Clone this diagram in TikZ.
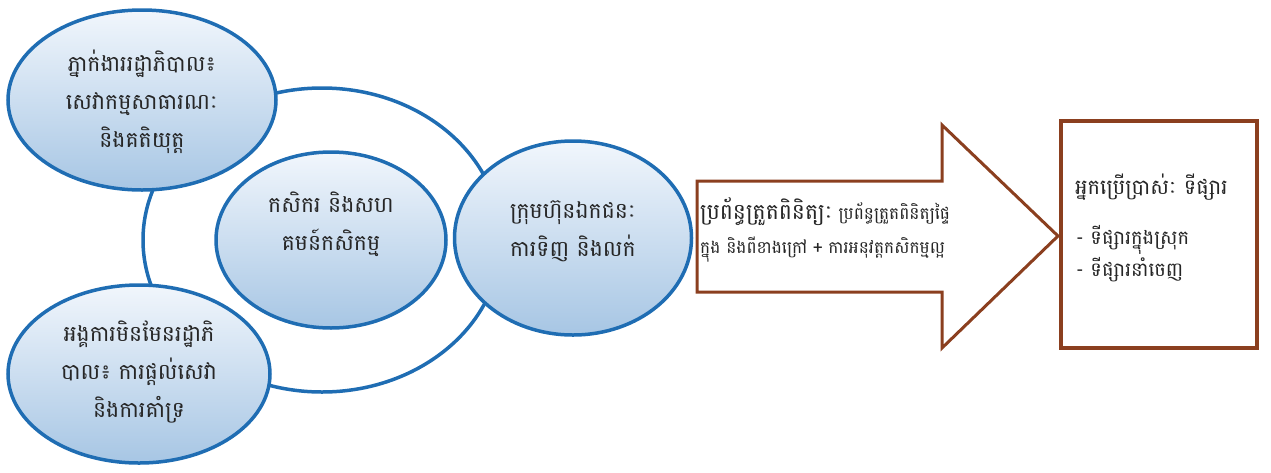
\documentclass[tikz,border=0pt]{standalone}
\usepackage{fontspec}
\setmainfont[Script=Khmer]{Battambang}
\usetikzlibrary{shapes.geometric}

\definecolor{bubbleline}{HTML}{1F6DB3}
\definecolor{bubbletop}{HTML}{F1F6FC}
\definecolor{bubblebot}{HTML}{A7C6E4}
\definecolor{brownline}{HTML}{8B3F1F}
\definecolor{inktext}{HTML}{262626}

\tikzset{
	bubble/.style = {ellipse, draw = bubbleline, line width = 3.5pt,
		top color = bubbletop, bottom color = bubblebot, inner sep = 0pt},
	bubbletext/.style = {align = center, inner sep = 0pt, text = inktext,
		font = \fontsize{22}{38}\selectfont},
	ring/.style = {ellipse, draw = bubbleline, line width = 3.5pt, inner sep = 0pt},
	brownbox/.style = {draw = brownline, fill = white, line width = 3.5pt, inner sep = 0pt}
}

\begin{document}
\begin{tikzpicture}[x = 1pt, y = -1pt]

	\useasboundingbox (0, 0) rectangle (1271, 472);

	% The big ring behind the bubbles

	\node [ring, minimum width = 358pt, minimum height = 304pt] (ring) at (322, 240) {};

	% Four bubbles

	\node [bubble, minimum width = 268pt, minimum height = 180pt] (gov) at (142, 100) {};
	\node [bubbletext] (govtext) at (142, 102) {ភ្នាក់ងាររដ្ឋាភិបាល៖\\សេវាកម្មសាធារណៈ\\និងគតិយុត្ត};

	\node [bubble, minimum width = 262pt, minimum height = 178pt] (ngo) at (139, 374) {};
	\node [bubbletext] (ngotext) at (139, 372) {អង្គការមិនមែនរដ្ឋាភិ\\បាល៖ ការផ្តល់សេវា\\និងការគាំទ្រ};

	\node [bubble, minimum width = 230pt, minimum height = 176pt] (farm) at (331, 240) {};
	\node [bubbletext] (farmtext) at (331, 224) {កសិករ និងសហ\\គមន៍កសិកម្ម};

	\node [bubble, minimum width = 237pt, minimum height = 194pt] (firm) at (573, 238) {};
	\node [bubbletext] (firmtext) at (573, 231) {ក្រុមហ៊ុនឯកជនៈ\\ការទិញ និងលក់};

	% Block arrow with the control systems

	\coordinate (tip) at (1058, 236);
	\draw [brownline, fill = white, line width = 3pt, line join = miter]
		(697, 181) -- (942, 181) -- (942, 125) -- (tip)
		-- (942, 348) -- (942, 292) -- (697, 292) -- cycle;
	\node [anchor = west, align = left, inner sep = 0pt, text = inktext,
		font = \fontsize{17}{34}\selectfont] (check) at (700, 230)
		{{\fontsize{22}{34}\selectfont ប្រព័ន្ធត្រួតពិនិត្យៈ} ប្រព័ន្ធត្រួតពិនិត្យផ្ទៃ\\
		ក្នុង និងពីខាងក្រៅ + ការអនុវត្តកសិកម្មល្អ};

	% Users box

	\node [brownbox, minimum width = 196pt, minimum height = 227pt] (users) at (1159, 234.5) {};
	\node [anchor = west, inner sep = 0pt, text = inktext, font = \fontsize{21}{34}\selectfont]
		(userstitle) at (1075, 187) {អ្នកប្រើប្រាស់ៈ ទីផ្សារ};
	\node [anchor = west, align = left, inner sep = 0pt, text = inktext,
		font = \fontsize{19.5}{32}\selectfont]
		(userslist) at (1076, 254) {-\ ទីផ្សារក្នុងស្រុក\\-\ ទីផ្សារនាំចេញ};

\end{tikzpicture}
\end{document}
